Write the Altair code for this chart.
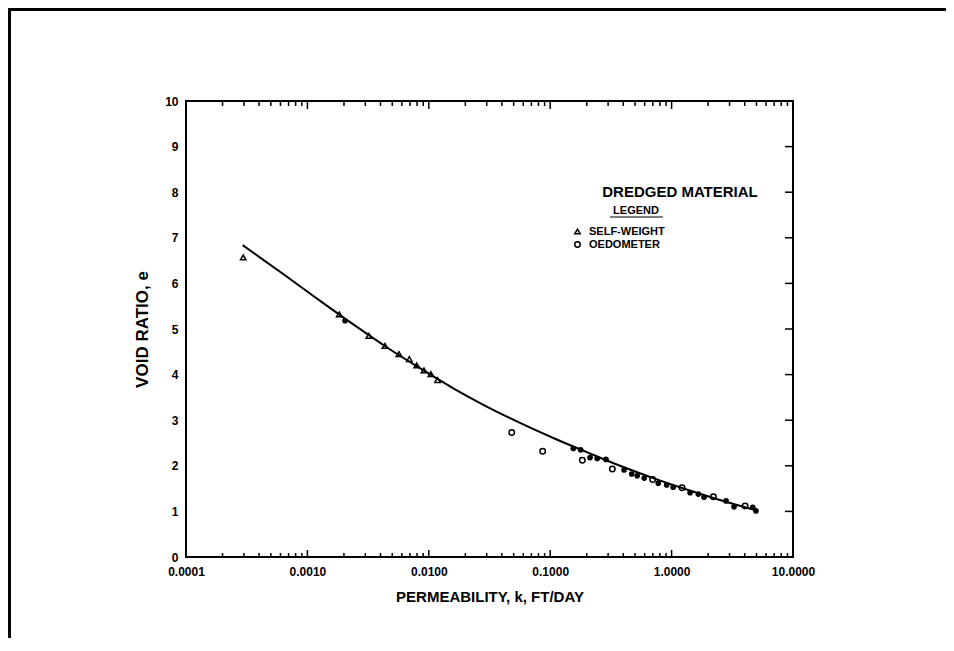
import altair as alt
import pandas as pd

# ---- data ----
fit_k = [0.000293, 0.000675, 0.00127, 0.00239, 0.0045, 0.00845, 0.0159, 0.030,
         0.0564, 0.106, 0.200, 0.376, 0.706, 1.33, 2.50, 4.86]
fit_e = [6.84, 6.15, 5.62, 5.10, 4.60, 4.14, 3.70, 3.30,
         2.94, 2.61, 2.30, 2.00, 1.73, 1.48, 1.25, 1.03]

sw_k = [0.000296, 0.00183, 0.00321, 0.00435, 0.00568, 0.00691, 0.00794, 0.00912, 0.0104, 0.0118]
sw_e = [6.57, 5.32, 4.85, 4.63, 4.45, 4.34, 4.20, 4.09, 4.01, 3.88]

oed_k = [0.0482, 0.0867, 0.184, 0.325, 0.698, 1.22, 2.21, 4.03]
oed_e = [2.73, 2.32, 2.12, 1.93, 1.70, 1.52, 1.32, 1.12]

dense_k = [0.00204, 0.155, 0.178, 0.213, 0.244, 0.288, 0.406, 0.469, 0.521, 0.595,
           0.776, 0.911, 1.03, 1.42, 1.66, 1.85, 2.81, 3.27, 4.66, 4.95]
dense_e = [5.18, 2.38, 2.35, 2.18, 2.16, 2.14, 1.91, 1.82, 1.78, 1.73,
           1.62, 1.58, 1.53, 1.41, 1.38, 1.31, 1.23, 1.10, 1.09, 1.01]

series_names = ["SELF-WEIGHT", "OEDOMETER"]
x_major = [0.0001, 0.001, 0.01, 0.1, 1.0, 10.0]
x_minor = [m * 10.0 ** d for d in range(-4, 1) for m in range(2, 10)]
y_labels = [0, 1, 2, 3, 4, 5, 6, 7, 8, 9, 10]
y_ticks = [1, 2, 3, 4, 5, 6, 7, 8, 9]

chart_title = "DREDGED MATERIAL"
legend_title = "LEGEND"

# ---- layout ----
W, H = 607, 456
PL, PT = 178, 93
TOTAL_W, TOTAL_H = 938, 630
FONT = "Liberation Sans"

xscale = alt.Scale(type="log", domain=[0.0001, 10], nice=False)
yscale = alt.Scale(domain=[0, 10], nice=False, zero=True)

xaxis = alt.Axis(title="PERMEABILITY, k, FT/DAY", values=x_major, format=".4f",
                 ticks=False, domain=False, grid=False, labelFlush=False,
                 labelPadding=9, titlePadding=12, labelFont=FONT, titleFont=FONT,
                 labelFontSize=12, labelFontWeight="bold", titleFontSize=15,
                 titleFontWeight="bold", labelColor="black", titleColor="black")
yaxis = alt.Axis(title="VOID RATIO, e", values=y_labels, format="d",
                 ticks=False, domain=False, grid=False,
                 labelPadding=8, titlePadding=13, labelFont=FONT, titleFont=FONT,
                 labelFontSize=12, labelFontWeight="bold", titleFontSize=17,
                 titleFontWeight="bold", labelColor="black", titleColor="black")

X = alt.X("k:Q", scale=xscale, axis=xaxis)
Y = alt.Y("e:Q", scale=yscale, axis=yaxis)

fit_df = pd.DataFrame({"k": fit_k, "e": fit_e})
pts_df = pd.concat([
    pd.DataFrame({"k": sw_k, "e": sw_e, "series": series_names[0]}),
    pd.DataFrame({"k": oed_k, "e": oed_e, "series": series_names[1]}),
], ignore_index=True)
dense_df = pd.DataFrame({"k": dense_k, "e": dense_e})

line = alt.Chart(fit_df).mark_line(color="black", strokeWidth=2, interpolate="monotone").encode(x=X, y=Y)

points = alt.Chart(pts_df).mark_point(filled=False, color="black", strokeWidth=1.5, size=30, opacity=1).encode(
    x=X, y=Y,
    shape=alt.Shape("series:N", scale=alt.Scale(domain=series_names, range=["triangle-up", "circle"]),
                    legend=alt.Legend(title=None, orient="none", legendX=386, legendY=125,
                                      labelFont=FONT, labelFontSize=11, labelFontWeight="bold",
                                      labelColor="black", labelOffset=6, rowPadding=1,
                                      symbolStrokeColor="black", symbolStrokeWidth=1.5,
                                      symbolSize=30, symbolFillColor="white")),
)

dense = alt.Chart(dense_df).mark_point(filled=True, color="black", size=32, shape="circle", opacity=1).encode(x=X, y=Y)

bot_minor = alt.Chart(pd.DataFrame({"k": x_minor})).mark_rule(color="black", strokeWidth=1.5).encode(
    x=alt.X("k:Q", scale=xscale, axis=xaxis), y=alt.value(H), y2=alt.value(H - 4))
bot_major = alt.Chart(pd.DataFrame({"k": x_major})).mark_rule(color="black", strokeWidth=1.5).encode(
    x=alt.X("k:Q", scale=xscale, axis=xaxis), y=alt.value(H), y2=alt.value(H - 7))
top_minor = alt.Chart(pd.DataFrame({"k": x_minor})).mark_rule(color="black", strokeWidth=1.5).encode(
    x=alt.X("k:Q", scale=xscale, axis=xaxis), y=alt.value(0), y2=alt.value(5))
top_major = alt.Chart(pd.DataFrame({"k": x_major})).mark_rule(color="black", strokeWidth=1.5).encode(
    x=alt.X("k:Q", scale=xscale, axis=xaxis), y=alt.value(0), y2=alt.value(8))
right_ticks = alt.Chart(pd.DataFrame({"e": y_ticks})).mark_rule(color="black", strokeWidth=1.5).encode(
    y=alt.Y("e:Q", scale=yscale, axis=yaxis), x=alt.value(W - 8), x2=alt.value(W))

title_txt = alt.Chart(pd.DataFrame({"t": [chart_title]})).mark_text(
    font=FONT, fontSize=15, fontWeight="bold", color="black", align="center", baseline="middle").encode(
    text="t:N", x=alt.value(494), y=alt.value(91))
legend_txt = alt.Chart(pd.DataFrame({"t": [legend_title]})).mark_text(
    font=FONT, fontSize=11, fontWeight="bold", color="black", align="center", baseline="middle").encode(
    text="t:N", x=alt.value(450), y=alt.value(110))
underline = alt.Chart(pd.DataFrame({"t": [legend_title]})).mark_rule(color="black", strokeWidth=1.2).encode(
    x=alt.value(424), x2=alt.value(477), y=alt.value(116))

border_top = alt.Chart(pd.DataFrame({"t": [0]})).mark_rule(color="black", strokeWidth=3).encode(
    x=alt.value(-PL), x2=alt.value(TOTAL_W - PL), y=alt.value(-PT + 1.5))
border_left = alt.Chart(pd.DataFrame({"t": [0]})).mark_rule(color="black", strokeWidth=3).encode(
    x=alt.value(-PL + 1.5), y=alt.value(-PT), y2=alt.value(TOTAL_H - PT))

chart = alt.layer(
    bot_minor, bot_major, top_minor, top_major, right_ticks,
    line, dense, points, title_txt, legend_txt, underline, border_top, border_left
).properties(
    width=W, height=H,
    autosize=alt.AutoSizeParams(type="none"),
    padding={"left": PL, "top": PT, "right": TOTAL_W - PL - W, "bottom": TOTAL_H - PT - H},
    background="white",
).configure_view(stroke="black", strokeWidth=2)

chart.save("out.html", embed_options={"renderer": "svg", "actions": False})
